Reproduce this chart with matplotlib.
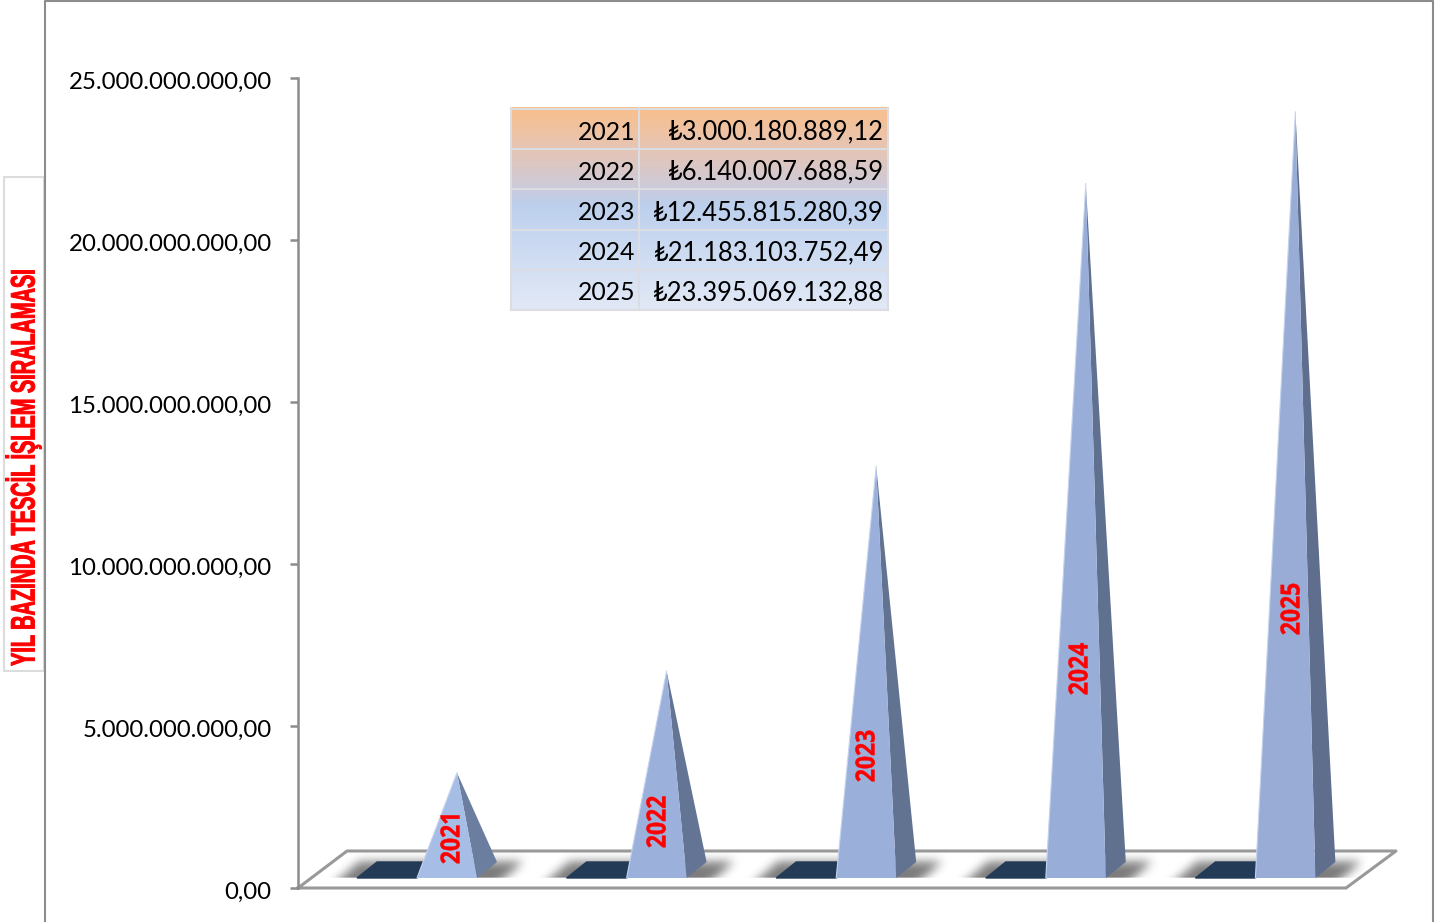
import numpy as np
import matplotlib
matplotlib.use("Agg")
import matplotlib.pyplot as plt
from matplotlib.colors import to_rgb
from matplotlib.patheffects import AbstractPathEffect
from matplotlib.ticker import FuncFormatter
from matplotlib.transforms import Affine2D

years = ["2021", "2022", "2023", "2024", "2025"]
values = [3000180889.12, 6140007688.59, 12455815280.39, 21183103752.49, 23395069132.88]
table_values = ["₺3.000.180.889,12", "₺6.140.007.688,59", "₺12.455.815.280,39",
                "₺21.183.103.752,49", "₺23.395.069.132,88"]
front_colors = ["#A6BEE6", "#9BB1DB", "#9AAFD9", "#98AED8", "#98ACD6"]
side_colors = ["#6C7E9F", "#647494", "#627291", "#60708F", "#5F6E8D"]
label_px = [(452, 838), (658, 822), (867, 756), (1080, 669), (1292, 609)]
title = "YIL BAZINDA TESCİL İŞLEM SIRALAMASI"

W, H = 1451, 922
TEXT_FONT = ["Lato", "DejaVu Sans"]
GRAY = "#8C8C8C"


class Squeeze(AbstractPathEffect):
    # squeeze the glyphs along the page y direction, for the narrow rotated labels
    def __init__(self, cy, scale, stroke=0.0):
        super().__init__()
        self.cy = H - cy
        self.scale = scale
        self.stroke = stroke

    def draw_path(self, renderer, gc, tpath, affine, rgbFace=None):
        squeeze = Affine2D().translate(0, -self.cy).scale(1, self.scale).translate(0, self.cy)
        gc0 = renderer.new_gc()
        gc0.copy_properties(gc)
        gc0.set_linewidth(self.stroke)
        gc0.set_foreground(rgbFace)
        renderer.draw_path(gc0, tpath, affine + squeeze, rgbFace)
        gc0.restore()


fig = plt.figure(figsize=(W / 100, H / 100), dpi=100, facecolor="white")

# page furniture in pixel coordinates
bg = fig.add_axes([0, 0, 1, 1])
bg.set_xlim(0, W)
bg.set_ylim(H, 0)
bg.axis("off")
bg.plot([45, 45, 1433, 1433], [H, 1, 1, H], color=GRAY, lw=1.5)
bg.fill([4, 44, 44, 4], [177, 177, 671, 671], facecolor="white", edgecolor="#DCDCDC", lw=1.5)
bg.text(24, 468, title, rotation=90, ha="center", va="center", color="#FF0000",
        fontsize=24.5, fontweight="bold", family="Liberation Sans",
        path_effects=[Squeeze(468, 0.585, stroke=0.7)])

# summary table
stops_y = [108, 150, 190, 205, 230, 310]
stops_c = ["#F9BF8C", "#E6C5B5", "#CBCBDC", "#BCCFEC", "#C5D6F0", "#E2E9F6"]
rows_y = np.arange(108, 311)
grad = np.array([[np.interp(y, stops_y, [to_rgb(c)[k] for c in stops_c]) for k in range(3)] for y in rows_y])
bg.imshow(grad[:, None, :], extent=[511, 888, 310, 108], aspect="auto", zorder=1)
bg.set_xlim(0, W)
bg.set_ylim(H, 0)
row_edges = np.linspace(109, 310, 6)
for y in row_edges:
    bg.plot([511, 888], [y, y], color="#DCDDE2", lw=1.5, zorder=2)
for x in [511, 639, 888]:
    bg.plot([x, x], [108, 310], color="#DCDDE2", lw=1.5, zorder=2)
for k in range(5):
    yc = (row_edges[k] + row_edges[k + 1]) / 2 + 3
    bg.text(635, yc, years[k], ha="right", va="center", fontsize=17.8, family=TEXT_FONT, color="black", zorder=3)
    bg.text(884, yc, table_values[k], ha="right", va="center", fontsize=18.4, family=TEXT_FONT, color="black", zorder=3)

# chart axes, 0 at y=888 and 25 bn at y=78
ax = fig.add_axes([298 / W, 1 - 888 / H, 1048 / W, 810 / H], facecolor="none")
ax.set_xlim(-0.5, 4.5)
ax.set_ylim(0, 25e9)
PX = 5 / 1048
PY = 25e9 / 810


def to_x(i, px):
    return i - 0.5 + px * PX


for s in ["top", "right", "bottom"]:
    ax.spines[s].set_visible(False)
ax.spines["left"].set_color(GRAY)
ax.spines["left"].set_linewidth(1.8)
ax.set_xticks([])
ax.set_yticks(np.arange(0, 25e9 + 1, 5e9))
ax.yaxis.set_major_formatter(FuncFormatter(lambda v, _: f"{v:,.2f}".replace(",", "#").replace(".", ",").replace("#", ".")))
ax.tick_params(axis="y", length=6, width=1.8, color=GRAY, pad=13, labelsize=17.3)
for lab in ax.get_yticklabels():
    lab.set_family(TEXT_FONT)
    lab.set_transform(lab.get_transform() + Affine2D().translate(0, -2.5))

# floor
fx = [0, 1048, 1098, 49, 0]
fy = [0, 0, 37, 37, 0]
ax.plot(to_x(0, np.array(fx)), np.array(fy) * PY, color="#999999", lw=2.2, clip_on=False, zorder=1)


def box_blur(a, n):
    kernel = np.ones(n) / n
    for axis in (0, 1):
        for _ in range(2):
            a = np.apply_along_axis(lambda r: np.convolve(r, kernel, mode="same"), axis, a)
    return a


# soft floor shadow, local pixels relative to the front left corner of a pyramid
sx, sy = np.meshgrid(np.arange(-110, 150), np.arange(-20, 40))
sh = ((sy < 16) & (sx - sy * 1.15 > -76) & (sx - sy * 1.15 < 88)).astype(float)
sh = box_blur(sh, 11) * 0.85
sh[sy < 0] = 0
sh_img = np.zeros(sh.shape + (4,))
sh_img[..., :3] = 0.4
sh_img[..., 3] = sh

for i, v in enumerate(values):
    x0 = 119  # front left corner in pixels from category edge
    base = 10
    ax.imshow(sh_img, origin="lower", aspect="auto", zorder=2, clip_on=False, interpolation="bilinear",
              extent=[to_x(i, x0 - 110), to_x(i, x0 + 150), (base - 20) * PY, (base + 40) * PY])
    ax.fill(to_x(i, np.array([x0 - 60, x0, x0 + 20, x0 - 40])),
            np.array([base, base, base + 16, base + 16]) * PY,
            color="#243B58", zorder=3, clip_on=False)
    apex_x = to_x(i, x0 + 40)
    apex_y = v + (base + 8) * PY
    ax.fill([to_x(i, x0 + 60), to_x(i, x0 + 80), apex_x],
            [base * PY, (base + 16) * PY, apex_y],
            color=side_colors[i], zorder=4, clip_on=False, lw=0)
    ax.fill([to_x(i, x0), to_x(i, x0 + 60), apex_x],
            [base * PY, base * PY, apex_y],
            color=front_colors[i], zorder=5, clip_on=False, lw=0)
    ax.plot([to_x(i, x0), apex_x], [base * PY, apex_y], color="#C4D3EE", lw=0.8, zorder=6, clip_on=False)

ax.set_xlim(-0.5, 4.5)
ax.set_ylim(0, 25e9)

for k, (lx, ly) in enumerate(label_px):
    ax.text(to_x(0, lx - 298), (888 - ly) * PY, years[k], rotation=90, ha="center", va="center",
            color="#FF0000", fontsize=19, fontweight="bold", family="Open Sans", zorder=7, clip_on=False,
            path_effects=[Squeeze(ly, 0.87, stroke=0.3)])

fig.savefig("out.png", dpi=100)
